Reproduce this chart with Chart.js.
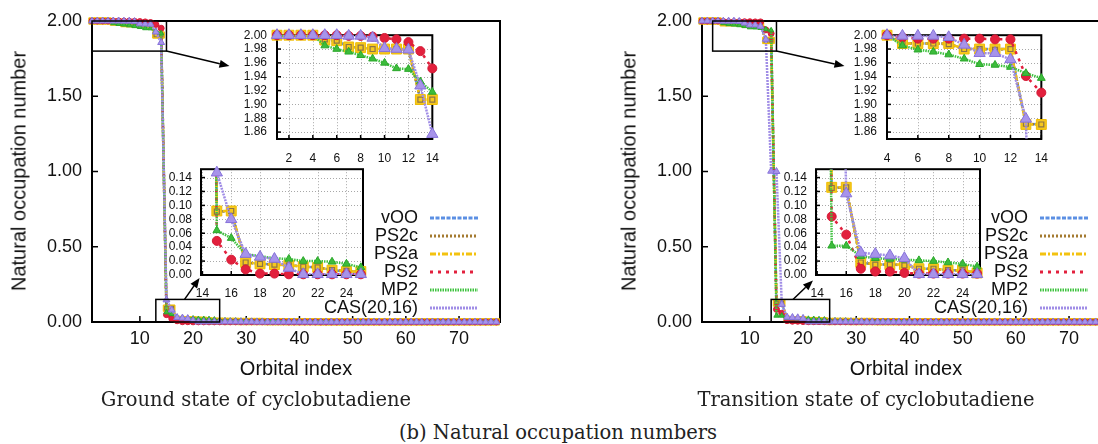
<!DOCTYPE html>
<html>
<head>
<meta charset="utf-8">
<title>Natural occupation numbers</title>
<script src="https://cdn.jsdelivr.net/npm/chart.js@4.4.1/dist/chart.umd.min.js"></script>
<style>
  body { margin:0; width:1098px; height:444px; overflow:hidden; position:relative; background:#fff; font-family:"Liberation Sans", Arial, sans-serif; }
  canvas { position:absolute; }
  .lbl { position:absolute; white-space:nowrap; transform:translate(-50%,-50%); font-size:20px; color:#111; }
  .ylbl { transform:translate(-50%,-50%) rotate(-90deg); }
  .cap { font-family:"DejaVu Serif", "Liberation Serif", serif; font-size:19.5px; color:#222; }
</style>
</head>
<body>
<canvas id="gsMain" width="520" height="390" style="left:0;top:0"></canvas>
<canvas id="tsMain" width="520" height="390" style="left:610px;top:0"></canvas>
<canvas id="gsTop" width="214" height="151" style="left:237px;top:18px"></canvas>
<canvas id="gsBot" width="212" height="152" style="left:161px;top:153px"></canvas>
<canvas id="tsTop" width="213" height="151" style="left:847px;top:18px"></canvas>
<canvas id="tsBot" width="214" height="152" style="left:776px;top:153px"></canvas>

<div class="lbl ylbl" style="left:19px;top:171px">Natural occupation number</div>
<div class="lbl ylbl" style="left:629px;top:171px">Natural occupation number</div>
<div class="lbl" style="left:296px;top:368px">Orbital index</div>
<div class="lbl" style="left:906px;top:368px">Orbital index</div>
<div class="lbl cap" style="left:256px;top:399px">Ground state of cyclobutadiene</div>
<div class="lbl cap" style="left:866px;top:399px">Transition state of cyclobutadiene</div>
<div class="lbl cap" style="left:558px;top:432px">(b) Natural occupation numbers</div>

<script>
// ---- data ----
const seriesNames = ['vOO', 'PS2c', 'PS2a', 'PS2', 'MP2', 'CAS(20,16)'];

const orbitalIdx = [1,2,3,4,5,6,7,8,9,10,11,12,13,14,15,16,17,18,19,20,
  21,22,23,24,25,26,27,28,29,30,31,32,33,34,35,36,37,38,39,40,
  41,42,43,44,45,46,47,48,49,50,51,52,53,54,55,56,57,58,59,60,
  61,62,63,64,65,66,67,68,69,70,71,72,73,74,75,76,77];

// orbitals 1-25, ground state
const gsVOO  = [2.000,2.000,2.000,2.000,1.993,1.992,1.983,1.982,1.980,1.980,1.980,1.980,1.907,1.906,0.092,0.091,0.018,0.016,0.015,0.014,0.012,0.011,0.007,0.005,0.005];
const gsPS2c = [2.000,2.000,2.000,2.000,1.994,1.992,1.983,1.982,1.980,1.980,1.980,1.979,1.907,1.907,0.091,0.092,0.018,0.016,0.015,0.014,0.012,0.011,0.007,0.006,0.005];
const gsPS2a = [2.000,2.000,2.000,2.000,1.993,1.992,1.983,1.982,1.980,1.980,1.980,1.980,1.907,1.907,0.092,0.092,0.018,0.016,0.015,0.014,0.012,0.011,0.007,0.005,0.005];
const gsPS2  = [2.000,2.000,2.000,2.000,2.000,2.000,1.999,1.999,1.998,1.996,1.994,1.990,1.977,1.952,0.049,0.022,0.008,0.002,0.002,0.001,0.001,0.001,0.001,0.001,0.001];
const gsMP2  = [2.000,2.000,2.000,2.000,1.985,1.980,1.976,1.971,1.966,1.960,1.952,1.951,1.933,1.918,0.064,0.053,0.030,0.027,0.024,0.023,0.020,0.020,0.019,0.016,0.011];
const gsCAS  = [2.000,2.000,2.000,2.000,2.000,2.000,1.999,1.999,1.996,1.981,1.980,1.979,1.927,1.857,0.147,0.080,0.030,0.026,0.023,0.010,0.001,0.001,0.001,0.001,0.001];

// orbitals 1-25, transition state
const tsVOO  = [2.000,2.000,2.000,2.000,1.988,1.988,1.988,1.988,1.980,1.980,1.980,1.980,1.871,1.872,0.126,0.125,0.018,0.015,0.015,0.015,0.009,0.009,0.007,0.007,0.003];
const tsPS2c = [2.000,2.000,2.000,2.000,1.989,1.988,1.988,1.987,1.980,1.980,1.979,1.980,1.872,1.871,0.125,0.126,0.018,0.015,0.015,0.014,0.009,0.009,0.007,0.007,0.003];
const tsPS2a = [2.000,2.000,2.000,2.000,1.988,1.988,1.988,1.988,1.980,1.980,1.980,1.980,1.871,1.871,0.126,0.126,0.018,0.015,0.015,0.015,0.009,0.009,0.007,0.007,0.003];
const tsPS2  = [2.000,2.000,2.000,2.000,1.997,1.995,1.995,1.995,1.995,1.995,1.994,1.994,1.941,1.917,0.084,0.058,0.009,0.005,0.005,0.003,0.002,0.002,0.002,0.002,0.002];
const tsMP2  = [2.000,2.000,2.000,2.000,1.985,1.979,1.976,1.972,1.966,1.958,1.957,1.954,1.945,1.938,0.042,0.042,0.027,0.024,0.023,0.022,0.021,0.020,0.018,0.016,0.012];
const tsCAS  = [2.000,2.000,2.000,2.000,1.999,1.999,1.999,1.997,1.986,1.974,1.974,1.965,1.879,1.002,1.000,0.117,0.032,0.030,0.028,0.024,0.001,0.001,0.001,0.001,0.001];

// orbitals 26-77 (virtual tail, near zero)
const tailMP2 = [0.010,0.009,0.009,0.008,0.008,0.007,0.007,0.007,0.006,0.006,
  0.006,0.005,0.005,0.005,0.005,0.004,0.004,0.004,0.004,0.004,
  0.003,0.003,0.003,0.003,0.003,0.003,0.003,0.002,0.002,0.002,
  0.002,0.002,0.002,0.002,0.002,0.002,0.002,0.001,0.001,0.001,
  0.001,0.001,0.001,0.001,0.001,0.001,0.001,0.001,0.001,0.001,0.001,0.001];
const tailPS2a = [0.004,0.004,0.004,0.003,0.003,0.003,0.003,0.003,0.002,0.002,
  0.002,0.002,0.002,0.002,0.002,0.002,0.002,0.002,0.001,0.001,
  0.001,0.001,0.001,0.001,0.001,0.001,0.001,0.001,0.001,0.001,
  0.001,0.001,0.001,0.001,0.001,0.001,0.001,0.001,0.001,0.001,
  0.001,0.001,0.001,0.001,0.001,0.001,0.001,0.001,0.001,0.001,0.001,0.001];
const tailPS2 = [0.001,0.001,0.001,0.001,0.001,0.001,0.001,0.001,0.001,0.001,
  0.001,0.001,0,0,0,0,0,0,0,0,
  0,0,0,0,0,0,0,0,0,0,
  0,0,0,0,0,0,0,0,0,0,
  0,0,0,0,0,0,0,0,0,0,0,0];
const tailCAS = [0.001,0.001,0.001,0.001,0.001,0.001,0,0,0,0,
  0,0,0,0,0,0,0,0,0,0,
  0,0,0,0,0,0,0,0,0,0,
  0,0,0,0,0,0,0,0,0,0,
  0,0,0,0,0,0,0,0,0,0,0,0];

// ticks
const mainXTicks = [10,20,30,40,50,60,70];
const mainYTicks = [0,0.5,1,1.5,2];
const topYTicks = [1.86,1.88,1.90,1.92,1.94,1.96,1.98,2.00];
const gsTopXTicks = [2,4,6,8,10,12,14];
const tsTopXTicks = [4,6,8,10,12,14];
const botXTicks = [14,16,18,20,22,24];
const botYTicks = [0,0.02,0.04,0.06,0.08,0.10,0.12,0.14];

const gsSeries = [gsVOO.concat(tailPS2a), gsPS2c.concat(tailPS2a), gsPS2a.concat(tailPS2a),
                  gsPS2.concat(tailPS2), gsMP2.concat(tailMP2), gsCAS.concat(tailCAS)];
const tsSeries = [tsVOO.concat(tailPS2a), tsPS2c.concat(tailPS2a), tsPS2a.concat(tailPS2a),
                  tsPS2.concat(tailPS2), tsMP2.concat(tailMP2), tsCAS.concat(tailCAS)];

// ---- styles ----
const styles = [
  {color:'#5b8fe3', dash:[4,1.5], point:'crossRot', fill:'#5b8fe3', edge:'#5b8fe3', edgeW:1.2, r:3, rMain:2, lineZ:0, markZ:1},
  {color:'#a47a30', dash:[2,2], point:'rect', fill:'rgba(0,0,0,0)', edge:'#8d7448', edgeW:1.2, r:3.5, rMain:2.5, lineZ:2, markZ:5.5},
  {color:'#f3c20f', dash:[6,2,2,2], point:'rect', fill:'#f5c81f', edge:'#efbc00', edgeW:1, r:7, rMain:4.5, lineZ:4, markZ:5},
  {color:'#e2203d', dash:[3,5], point:'circle', fill:'#e2203d', edge:'#d41a35', edgeW:1, r:4.5, rMain:3, lineZ:6, markZ:7},
  {color:'#3ec33e', dash:[1.5,1], point:'triangle', fill:'#3cbc3c', edge:'#2aa82a', edgeW:1, r:4.5, rMain:3, lineZ:8, markZ:9},
  {color:'#a08de6', dash:[2,1], point:'triangle', fill:'#a793ea', edge:'#8672da', edgeW:1, r:6.5, rMain:4, lineZ:10, markZ:11}
];

Chart.defaults.font.family = '"Liberation Sans", Arial, sans-serif';
Chart.defaults.color = '#111';

function makeDatasets(series, cfg) {
  const out = [];
  seriesNames.forEach((name, k) => {
    const st = styles[k];
    const pts = orbitalIdx.map((x, i) => ({x: x, y: series[k][i]}));
    const inRange = pts.filter(p => p.x >= cfg.x[0] && p.x <= cfg.x[1] && p.y >= cfg.y[0] && p.y <= cfg.y[1]);
    out.push({
      label: name, data: pts, borderColor: st.color, borderWidth: 2.5, borderDash: st.dash,
      pointRadius: 0, tension: 0, clip: cfg.main ? false : 0, order: 100 - st.lineZ
    });
    out.push({
      label: name + ' points', data: inRange, showLine: false, pointStyle: st.point,
      pointRadius: cfg.main ? st.rMain : st.r, pointBackgroundColor: st.fill,
      pointBorderColor: st.edge, pointBorderWidth: st.edgeW, clip: false, order: 100 - st.markZ
    });
  });
  return out;
}

function seg(ctx, x1, y1, x2, y2) {
  ctx.beginPath(); ctx.moveTo(x1, y1); ctx.lineTo(x2, y2); ctx.stroke();
}

function arrow(ctx, x1, y1, x2, y2) {
  const ang = Math.atan2(y2 - y1, x2 - x1), L = 10, W = 4;
  const bx = x2 - L * Math.cos(ang), by = y2 - L * Math.sin(ang);
  seg(ctx, x1, y1, bx, by);
  ctx.beginPath();
  ctx.moveTo(x2, y2);
  ctx.lineTo(bx + W * Math.sin(ang), by - W * Math.cos(ang));
  ctx.lineTo(bx - W * Math.sin(ang), by + W * Math.cos(ang));
  ctx.closePath(); ctx.fill();
}

function framePlugin(cfg) {
  return {
    id: 'frame',
    beforeDatasetsDraw(chart) {
      const {ctx, chartArea: a, scales: {x, y}} = chart;
      ctx.save();
      if (cfg.grid) {
        ctx.strokeStyle = '#a8a8a8'; ctx.lineWidth = 1; ctx.setLineDash([1, 2]);
        cfg.xTicks.forEach(v => { const p = Math.round(x.getPixelForValue(v)) + 0.5; seg(ctx, p, a.top, p, a.bottom); });
        cfg.yTicks.forEach(v => { const p = Math.round(y.getPixelForValue(v)) + 0.5; seg(ctx, a.left, p, a.right, p); });
        ctx.setLineDash([]);
      }
      ctx.strokeStyle = '#000'; ctx.lineWidth = 1.5;
      cfg.xTicks.forEach(v => { const p = x.getPixelForValue(v); seg(ctx, p, a.bottom, p, a.bottom - cfg.tl); });
      cfg.yTicks.forEach(v => { const p = y.getPixelForValue(v); seg(ctx, a.left, p, a.left + cfg.tl, p); });
      ctx.lineWidth = 2;
      ctx.strokeRect(a.left, a.top, a.right - a.left, a.bottom - a.top);
      ctx.restore();
    },
    afterDraw(chart) {
      if (!cfg.main) return;
      const {ctx, chartArea: a, scales: {x, y}} = chart;
      ctx.save();
      ctx.strokeStyle = '#000'; ctx.fillStyle = '#000'; ctx.lineWidth = 1.5;
      cfg.rects.forEach(r => {
        const x1 = x.getPixelForValue(r[0]), x2 = x.getPixelForValue(r[1]);
        const y1 = y.getPixelForValue(r[3]), y2 = y.getPixelForValue(r[2]);
        ctx.strokeRect(x1, y1, x2 - x1, y2 - y1);
      });
      cfg.arrows.forEach(ar => {
        const sx = x.getPixelForValue(ar.from[0]), sy = y.getPixelForValue(ar.from[1]);
        arrow(ctx, sx, sy, sx + ar.d[0], sy + ar.d[1]);
      });
      // legend
      ctx.font = '18px "Liberation Sans", Arial, sans-serif';
      ctx.textAlign = 'right'; ctx.textBaseline = 'middle';
      seriesNames.forEach((name, k) => {
        const st = styles[k];
        const ly = cfg.legendTop + k * 18;
        ctx.fillStyle = '#111';
        ctx.fillText(name, a.left + 326, ly);
        ctx.strokeStyle = st.color; ctx.lineWidth = 3; ctx.setLineDash(st.dash);
        seg(ctx, a.left + 338, ly, a.left + 386, ly);
        ctx.setLineDash([]);
      });
      ctx.restore();
    }
  };
}

function makeChart(id, series, cfg) {
  return new Chart(document.getElementById(id), {
    type: 'line',
    data: { datasets: makeDatasets(series, cfg) },
    options: {
      responsive: false, animation: false, events: [],
      layout: { autoPadding: false, padding: cfg.pad },
      plugins: { legend: { display: false }, tooltip: { enabled: false } },
      scales: {
        x: {
          type: 'linear', min: cfg.x[0], max: cfg.x[1],
          grid: { display: false, drawTicks: false }, border: { display: false },
          ticks: { autoSkip: false, maxRotation: 0, padding: cfg.xPad, font: { size: cfg.fs }, callback: v => String(v) },
          afterBuildTicks: s => { s.ticks = cfg.xTicks.map(v => ({ value: v })); },
          afterFit: s => { s.height = cfg.xH; }
        },
        y: {
          type: 'linear', min: cfg.y[0], max: cfg.y[1],
          grid: { display: false, drawTicks: false }, border: { display: false },
          ticks: { autoSkip: false, padding: cfg.yPad, font: { size: cfg.fs }, callback: v => Number(v).toFixed(2) },
          afterBuildTicks: s => { s.ticks = cfg.yTicks.map(v => ({ value: v })); },
          afterFit: s => { s.width = cfg.yW; }
        }
      }
    },
    plugins: [framePlugin(cfg)]
  });
}

const mainBase = { main: true, x: [1, 77.7], y: [0, 2], xTicks: mainXTicks, yTicks: mainYTicks,
  pad: { left: 0, top: 21, right: 20, bottom: 0 }, yW: 92, xH: 68, fs: 18, xPad: 6, yPad: 10, tl: 6, legendTop: 218 };
const topBase = { y: [1.85, 2.0], yTicks: topYTicks, pad: { left: 0, top: 10, right: 10, bottom: 0 },
  yW: 40, xH: 30, fs: 12, xPad: 12, yPad: 10, tl: 4, grid: true };
const botBase = { y: [0, 0.152], yTicks: botYTicks, xTicks: botXTicks, pad: { left: 0, top: 10, right: 10, bottom: 0 },
  yW: 40, xH: 30, fs: 12, xPad: 11, yPad: 9, tl: 4, grid: true };

makeChart('gsMain', gsSeries, Object.assign({}, mainBase, {
  rects: [[1, 15, 1.8, 2.0], [13, 25, 0, 0.15]],
  arrows: [{ from: [15, 1.8], d: [63, 15] }, { from: [18.4, 0.15], d: [15, -21.5] }]
}));
makeChart('tsMain', tsSeries, Object.assign({}, mainBase, {
  rects: [[3, 15, 1.8, 2.0], [14, 25, 0, 0.15]],
  arrows: [{ from: [15, 1.8], d: [68, 15] }, { from: [18.1, 0.15], d: [20, -19] }]
}));
makeChart('gsTop', gsSeries, Object.assign({}, topBase, { x: [1, 14], xTicks: gsTopXTicks }));
makeChart('tsTop', tsSeries, Object.assign({}, topBase, { x: [4, 14], xTicks: tsTopXTicks }));
makeChart('gsBot', gsSeries, Object.assign({}, botBase, { x: [13.9, 25.15] }));
makeChart('tsBot', tsSeries, Object.assign({}, botBase, { x: [13.92, 25.2] }));
</script>
</body>
</html>
